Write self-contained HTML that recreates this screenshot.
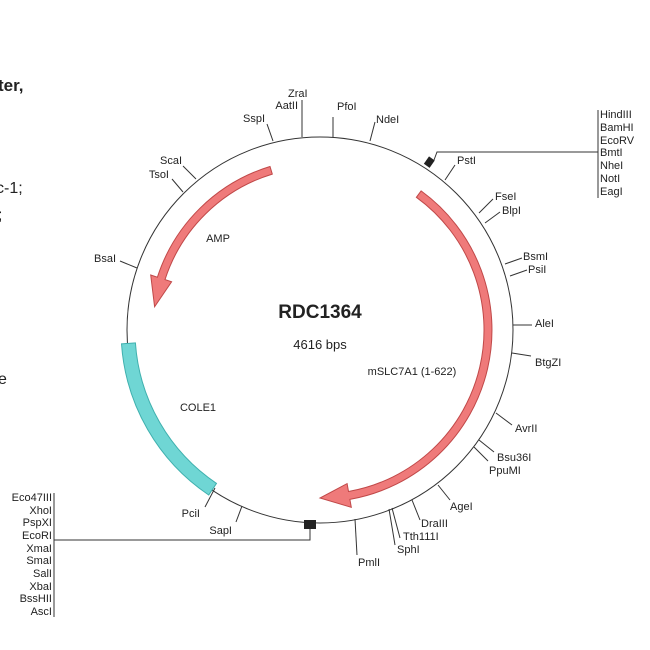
<!DOCTYPE html>
<html><head><meta charset="utf-8"><style>
body{margin:0;background:#fff;width:650px;height:650px;overflow:hidden}
svg{display:block}
text{font-family:"Liberation Sans",Arial,sans-serif;fill:#222}
.l{font-size:11px}
</style></head><body>
<svg width="650" height="650" viewBox="0 0 650 650">
<text x="-2" y="91" style="font-size:17px;font-weight:bold">ter,</text>
<text x="-4" y="193" style="font-size:16px">c-1;</text>
<text x="-2" y="220" style="font-size:16px">;</text>
<text x="-2" y="384" style="font-size:16px">e</text>

<circle cx="320" cy="330" r="193" fill="none" stroke="#333" stroke-width="1"/>

<path d="M270.0 166.5 A171 171 0 0 0 157.4 277.2 L150.7 275.0 L154.6 306.8 L171.6 281.8 L165.0 279.6 A163 163 0 0 1 272.3 174.1 Z" fill="#ef7a7a" stroke="#c04848" stroke-width="1"/>
<path d="M421.1 190.9 A172 172 0 0 1 349.9 499.4 L351.3 507.3 L320 498 L347.1 483.6 L348.5 491.5 A164 164 0 0 0 416.4 197.3 Z" fill="#ef7a7a" stroke="#c04848" stroke-width="1"/>
<path d="M121.5 343.9 A199 199 0 0 0 208.7 495.0 L216.5 483.4 A185 185 0 0 1 135.4 342.9 Z" fill="#6fd6d4" stroke="#3fb0ae" stroke-width="1"/>

<g stroke="#333" stroke-width="1">
<line x1="302" y1="137" x2="302" y2="100"/>
<line x1="333" y1="137" x2="333" y2="117"/>
<line x1="370" y1="141" x2="375" y2="122"/>
<line x1="273" y1="141" x2="267" y2="124"/>
<line x1="196" y1="179" x2="183" y2="166"/>
<line x1="183" y1="192" x2="172" y2="179"/>
<line x1="137" y1="268" x2="120" y2="261"/>
<line x1="445" y1="180" x2="455" y2="165"/>
<line x1="479" y1="213" x2="493" y2="199"/>
<line x1="485" y1="223" x2="500" y2="212"/>
<line x1="505" y1="264" x2="522" y2="258"/>
<line x1="510" y1="276" x2="527" y2="270"/>
<line x1="513" y1="325" x2="532" y2="325"/>
<line x1="512" y1="353" x2="531" y2="356"/>
<line x1="496" y1="413" x2="512" y2="425"/>
<line x1="479" y1="440" x2="494" y2="452"/>
<line x1="474" y1="447" x2="488" y2="461"/>
<line x1="438" y1="485" x2="450" y2="500"/>
<line x1="412" y1="500" x2="420" y2="520"/>
<line x1="392" y1="508" x2="400" y2="538"/>
<line x1="389" y1="509" x2="395" y2="545"/>
<line x1="355" y1="519" x2="357" y2="555"/>
<line x1="242" y1="506" x2="236" y2="522"/>
<line x1="215" y1="488" x2="205" y2="507"/>
<polyline points="434,160 437,152 598,152" fill="none"/>
<line x1="598" y1="110" x2="598" y2="198"/>
<polyline points="310,527 310,540 54,540" fill="none"/>
<line x1="54" y1="493" x2="54" y2="617"/>
</g>
<rect x="426" y="158" width="7" height="9" fill="#222" transform="rotate(35 430 162)"/>
<rect x="304" y="520" width="12" height="9" fill="#222"/>

<g class="l">
<text x="288" y="97">ZraI</text>
<text x="298" y="109" text-anchor="end">AatII</text>
<text x="337" y="110">PfoI</text>
<text x="376" y="123">NdeI</text>
<text x="265" y="122" text-anchor="end">SspI</text>
<text x="182" y="164" text-anchor="end">ScaI</text>
<text x="169" y="178" text-anchor="end">TsoI</text>
<text x="116" y="262" text-anchor="end">BsaI</text>
<text x="457" y="164">PstI</text>
<text x="495" y="200">FseI</text>
<text x="502" y="214">BlpI</text>
<text x="523" y="260">BsmI</text>
<text x="528" y="273">PsiI</text>
<text x="535" y="327">AleI</text>
<text x="535" y="366">BtgZI</text>
<text x="515" y="432">AvrII</text>
<text x="497" y="461">Bsu36I</text>
<text x="489" y="474">PpuMI</text>
<text x="450" y="510">AgeI</text>
<text x="421" y="527">DraIII</text>
<text x="403" y="540">Tth111I</text>
<text x="397" y="553">SphI</text>
<text x="358" y="566">PmlI</text>
<text x="232" y="534" text-anchor="end">SapI</text>
<text x="200" y="517" text-anchor="end">PciI</text>
<text x="600" y="118">HindIII</text>
<text x="600" y="131">BamHI</text>
<text x="600" y="144">EcoRV</text>
<text x="600" y="156">BmtI</text>
<text x="600" y="169">NheI</text>
<text x="600" y="182">NotI</text>
<text x="600" y="195">EagI</text>
<g text-anchor="end">
<text x="52" y="501">Eco47III</text>
<text x="52" y="514">XhoI</text>
<text x="52" y="526">PspXI</text>
<text x="52" y="539">EcoRI</text>
<text x="52" y="552">XmaI</text>
<text x="52" y="564">SmaI</text>
<text x="52" y="577">SalI</text>
<text x="52" y="590">XbaI</text>
<text x="52" y="602">BssHII</text>
<text x="52" y="615">AscI</text>
</g>
</g>
<text x="320" y="318" text-anchor="middle" style="font-size:19px;font-weight:bold">RDC1364</text>
<text x="320" y="349" text-anchor="middle" style="font-size:13px">4616 bps</text>
<text x="218" y="242" text-anchor="middle" style="font-size:11px">AMP</text>
<text x="412" y="375" text-anchor="middle" style="font-size:11px">mSLC7A1 (1-622)</text>
<text x="198" y="411" text-anchor="middle" style="font-size:11px">COLE1</text>
</svg>
</body></html>
